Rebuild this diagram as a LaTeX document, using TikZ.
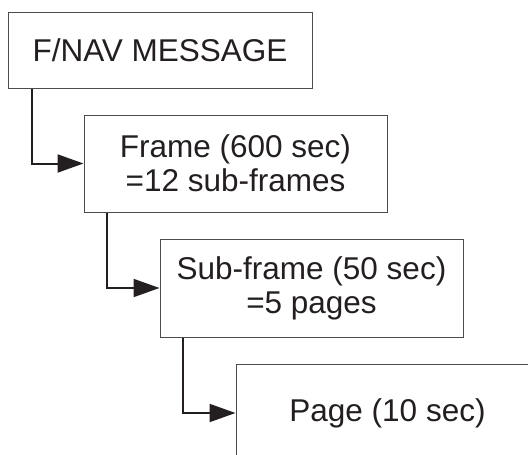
\documentclass[tikz,border=0pt]{standalone}
\usepackage{fontspec}
\setmainfont{Liberation Sans}
\usetikzlibrary{arrows.meta}
\definecolor{ink}{HTML}{231F20}
\tikzset{
  box/.style={draw=black!70, line width=1pt, fill=white, text=ink,
    minimum width=303pt, minimum height=97pt, inner sep=0pt, align=center,
    font={\fontsize{31.5}{34}\selectfont}},
  conn/.style={draw=ink, line width=2pt,
    -{Triangle[length=26pt,width=18pt]}}
}
\begin{document}
\begin{tikzpicture}[x=1pt,y=-1pt]
\clip (0,0) rectangle (528,455);
\fill[white] (0,0) rectangle (528,455);
\node[box, minimum width=304pt, minimum height=76pt] (b1) at (160,50) {F/NAV MESSAGE};
\node[box] (b2) at (235.5,163.5) {Frame (600 sec)\\=12 sub-frames};
\node[box, minimum height=98pt] (b3) at (311.5,288) {Sub-frame (50 sec)\\=5 pages};
\node[box, minimum height=98pt] (b4) at (387.5,413) {Page (10 sec)};
\draw[conn] ([xshift=24pt]b1.south west) |- (b2.west);
\draw[conn] ([xshift=23pt]b2.south west) |- (b3.west);
\draw[conn] ([xshift=23pt]b3.south west) |- (b4.west);
\end{tikzpicture}
\end{document}
